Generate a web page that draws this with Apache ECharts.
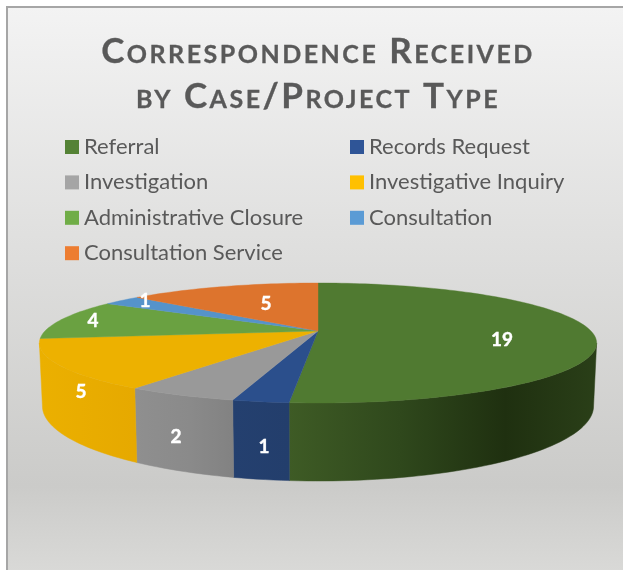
<!DOCTYPE html>
<html>
<head>
<meta charset="utf-8">
<style>html,body{margin:0;padding:0;background:#fff}#c{width:623px;height:570px}</style>
<script src="https://cdn.jsdelivr.net/npm/echarts@6/dist/echarts.min.js"></script>
</head>
<body>
<div id="c"></div>
<script>
const titleText = 'Correspondence Received\nby Case/Project Type';
const categories = ['Referral','Records Request','Investigation','Investigative Inquiry','Administrative Closure','Consultation','Consultation Service'];
const values = [19,1,2,5,4,1,5];
const legendColors = ['#548235','#2f5597','#a5a5a5','#ffc000','#70ad47','#5b9bd5','#ed7d31'];
const topColors = ['#507a31','#2b4f8c','#999999','#edb100','#6aa141','#5593ca','#dd742d'];
const wallColors = [
  [[289,'#3e5b25'],[400,'#2f481c'],[505,'#1f3010'],[597,'#2a3f18']],
  [[233,'#24406f'],[289,'#233e6c']],
  [[135,'#8f8f8f'],[190,'#8a8a8a'],[233,'#828282']],
  [[40,'#ebb000'],[135,'#e6a900']]
];
const labelAt = [[502,340],[264,447],[176,437],[81,392],[93,321],[145,301],[266,304]];

// small-caps title tracking, as in the original
function tracked(name) {
  const orig = CanvasRenderingContext2D.prototype[name];
  CanvasRenderingContext2D.prototype[name] = function (t, x, y, m) {
    this.letterSpacing = this.font.indexOf('small-caps') >= 0 ? '2.5px' : '0px';
    return m === undefined ? orig.call(this, t, x, y) : orig.call(this, t, x, y, m);
  };
}
tracked('fillText');
tracked('strokeText');

// Perspective projection of the pie disc
const view = {cx:318, topY:331, botY:391, gTop:273, gBot:270, hTop:57.6, hBot:72, p:0.2, wallFrom:101.5, wallTo:258.5};
const total = values.reduce((a,b)=>a+b,0);
const startDeg = values.map((v,i)=>values.slice(0,i).reduce((a,b)=>a+b,0)/total*360);
const endDeg = values.map((v,i)=>values.slice(0,i+1).reduce((a,b)=>a+b,0)/total*360);

function proj(deg, g, h, y0) {
  const t = deg*Math.PI/180, X = Math.sin(t), Y = Math.cos(t), w = 1+view.p*Y;
  return [view.cx + g*X/w, y0 - h*Y/w];
}
function arc(a, b, g, h, y0) {
  const n = Math.max(2, Math.ceil(Math.abs(b-a)/1.5)), pts = [];
  for (let i=0;i<=n;i++) pts.push(proj(a+(b-a)*i/n, g, h, y0));
  return pts;
}
function wallFill(stops) {
  const x0 = stops[0][0], x1 = stops[stops.length-1][0];
  return {type:'linear', global:true, x:x0, y:0, x2:x1, y2:0,
    colorStops: stops.map(s=>({offset:(s[0]-x0)/(x1-x0), color:s[1]}))};
}
function makeRender(i) {
  return function () {
    const children = [];
    const a = Math.max(startDeg[i], view.wallFrom), b = Math.min(endDeg[i], view.wallTo);
    if (b > a && wallColors[i]) {
      const pts = arc(a,b,view.gTop,view.hTop,view.topY).concat(arc(b,a,view.gBot,view.hBot,view.botY));
      children.push({type:'polygon', shape:{points:pts}, style:{fill:wallFill(wallColors[i]), stroke:wallFill(wallColors[i]), lineWidth:0.5}});
    }
    const top = [[view.cx,view.topY]].concat(arc(startDeg[i],endDeg[i],view.gTop,view.hTop,view.topY));
    children.push({type:'polygon', shape:{points:top}, style:{fill:topColors[i], stroke:topColors[i], lineWidth:0.4}});
    children.push({type:'text', z2:50, style:{x:labelAt[i][0], y:labelAt[i][1], text:String(values[i]), fill:'#ffffff',
      stroke:'#ffffff', lineWidth:0.4, font:'bold 19px Lato', align:'center', verticalAlign:'middle'}});
    return {type:'group', children};
  };
}
const legendBase = {orient:'vertical', icon:'rect', itemWidth:14, itemHeight:14, itemGap:13.4, selectedMode:false,
  textStyle:{fontFamily:'Lato', fontSize:22, color:'#595959'}};
const chart = echarts.init(document.getElementById('c'), null, {renderer:'canvas'});
chart.setOption({
  animation:false,
  color: legendColors,
  title:{text:titleText, left:313, top:24, textAlign:'center',
    textStyle:{fontFamily:'Lato', fontStyle:'small-caps', fontWeight:'bold', fontSize:35, lineHeight:45, color:'#595959',
      textBorderColor:'#595959', textBorderWidth:0.3}},
  legend:[
    Object.assign({}, legendBase, {left:60, top:131, data:[categories[0],categories[2],categories[4],categories[6]]}),
    Object.assign({}, legendBase, {left:345, top:131, data:[categories[1],categories[3],categories[5]]})
  ],
  graphic:{elements:[{type:'rect', z:-10, silent:true, shape:{x:7,y:7,width:700,height:700},
    style:{lineWidth:2, stroke:'#a6a6a6', fill:{type:'linear', global:true, x:0,y:7,x2:0,y2:570,
      colorStops:[{offset:0,color:'#f3f3f3'},{offset:0.85,color:'#cbcbc9'},{offset:1,color:'#d9d9d7'}]}}}]},
  series: categories.map((name,i)=>({
    type:'custom', name, coordinateSystem:'none', silent:true, clip:false,
    itemStyle:{color:legendColors[i]}, data:[[values[i]]], renderItem:makeRender(i)
  }))
});
</script>
</body>
</html>
